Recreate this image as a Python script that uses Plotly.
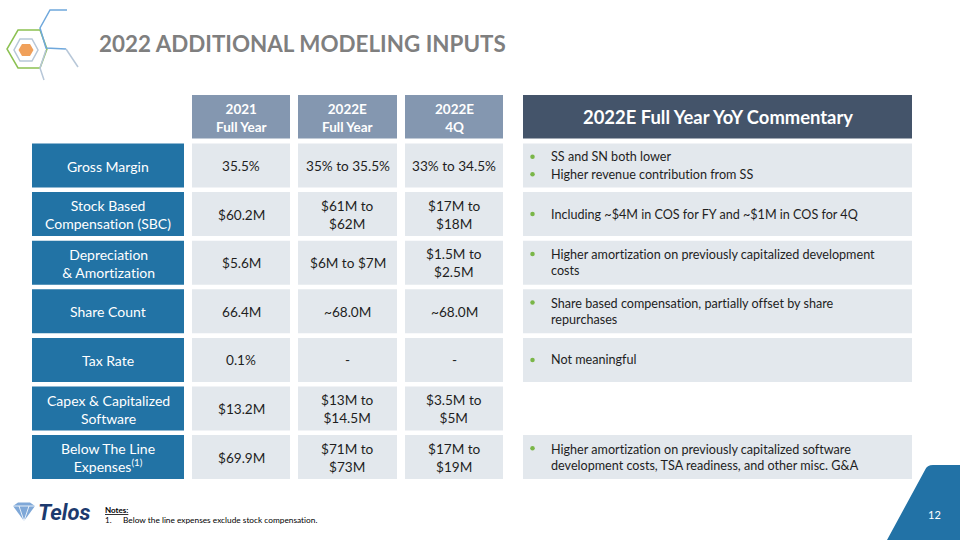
import plotly.graph_objects as go

# ---------------- data ----------------
metrics = ["Gross Margin", "Stock Based<br>Compensation (SBC)", "Depreciation<br>& Amortization",
           "Share Count", "Tax Rate", "Capex & Capitalized<br>Software",
           "Below The Line<br>Expenses<sup>(1)</sup>"]
col_headers = ["2021<br>Full Year", "2022E<br>Full Year", "2022E<br>4Q"]
fy2021 = ["35.5%", "$60.2M", "$5.6M", "66.4M", "0.1%", "$13.2M", "$69.9M"]
fy2022e = ["35% to 35.5%", "$61M to<br>$62M", "$6M to $7M", "~68.0M", "-", "$13M to<br>$14.5M", "$71M to<br>$73M"]
q4_2022e = ["33% to 34.5%", "$17M to<br>$18M", "$1.5M to<br>$2.5M", "~68.0M", "-", "$3.5M to<br>$5M", "$17M to<br>$19M"]
commentary_header = "2022E Full Year YoY Commentary"
commentary = [
    ["SS and SN both lower", "Higher revenue contribution from SS"],
    ["Including ~$4M in COS for FY and ~$1M in COS for 4Q"],
    ["Higher amortization on previously capitalized development<br>costs"],
    ["Share based compensation, partially offset by share<br>repurchases"],
    ["Not meaningful"],
    [],
    ["Higher amortization on previously capitalized software<br>development costs, TSA readiness, and other misc. G&A"],
]
title = "2022 ADDITIONAL MODELING INPUTS"
note_title = "Notes:"
note_items = ["Below the line expenses exclude stock compensation."]
page_number = "12"

# ---------------- style ----------------
FONT = "Lato"
C_LABEL = "#2273A5"
C_CELL = "#E3E8ED"
C_HEAD = "#8497B0"
C_COMM_HEAD = "#44546A"
C_TEXT = "#1E1E1E"
C_GREEN = "#7AB648"

ROW_TOP0 = 143.5
ROW_STEP = 48.6
ROW_H = 44
LABEL_X = (32, 184)
COL_X = [(192, 290), (298, 397), (405, 503)]
COMM_X = (523, 912)
HEAD_Y = (95, 138.5)

shapes = []
annotations = []


def rect(x0, x1, y0, y1, color):
    shapes.append(dict(type="rect", xref="x", yref="y", x0=x0, x1=x1, y0=y0, y1=y1,
                       fillcolor=color, line=dict(width=0), layer="below"))


def text(x, y, s, size=14, color=C_TEXT, xanchor="center", align="center", bold=False, family=FONT):
    annotations.append(dict(x=x, y=y, xref="x", yref="y", text=(f"<b>{s}</b>" if bold else s),
                            showarrow=False, xanchor=xanchor, yanchor="middle", align=align,
                            font=dict(family=family, size=size, color=color)))


# column headers
for j, h in enumerate(col_headers):
    x0, x1 = COL_X[j]
    rect(x0, x1, HEAD_Y[0], HEAD_Y[1], C_HEAD)
    text((x0 + x1) / 2, (HEAD_Y[0] + HEAD_Y[1]) / 2 + 1, h, size=13.5, color="white", bold=True)

# commentary header
rect(COMM_X[0], COMM_X[1], HEAD_Y[0], HEAD_Y[1], C_COMM_HEAD)
text((COMM_X[0] + COMM_X[1]) / 2, (HEAD_Y[0] + HEAD_Y[1]) / 2, commentary_header, size=18.4,
     color="white", bold=True)

bullet_x, bullet_y = [], []
columns = [fy2021, fy2022e, q4_2022e]
for i, m in enumerate(metrics):
    y0 = ROW_TOP0 + i * ROW_STEP
    y1 = y0 + ROW_H
    yc = (y0 + y1) / 2
    rect(LABEL_X[0], LABEL_X[1], y0, y1, C_LABEL)
    text((LABEL_X[0] + LABEL_X[1]) / 2, yc + 0.5, m, size=14, color="white")
    for j, col in enumerate(columns):
        x0, x1 = COL_X[j]
        rect(x0, x1, y0, y1, C_CELL)
        text((x0 + x1) / 2, yc + 0.5, col[i], size=13.6)
    items = commentary[i]
    if items:
        rect(COMM_X[0], COMM_X[1], y0, y1, C_CELL)
        n_lines = [it.count("<br>") + 1 for it in items]
        total = sum(n_lines)
        line_h = 17.5
        top = yc - total * line_h / 2
        for it, nl in zip(items, n_lines):
            cy = top + nl * line_h / 2
            text(549, cy, it, size=12.6, xanchor="left", align="left")
            bullet_x.append(532.5)
            bullet_y.append(top + line_h / 2)
            top += nl * line_h

fig = go.Figure()
fig.add_trace(go.Scatter(x=bullet_x, y=bullet_y, mode="markers", hoverinfo="skip",
                         marker=dict(color=C_GREEN, size=4.5, symbol="circle"), showlegend=False))

# title
text(97, 43.5, title, size=22.4, color="#7F7F7F", xanchor="left", align="left", bold=True)

# logo (hexagons)
shapes.append(dict(type="path", xref="x", yref="y",
                   path="M 22,44 L 30,44 L 33.5,50 L 30,56 L 22,56 L 18.5,50 Z",
                   fillcolor="#F0A05A", line=dict(width=0)))
shapes.append(dict(type="path", xref="x", yref="y",
                   path="M 20,39 L 32,39 L 38,50 L 32,61 L 20,61 L 14,50 Z",
                   fillcolor="rgba(0,0,0,0)", line=dict(color="#B7C7D8", width=1.5)))
shapes.append(dict(type="path", xref="x", yref="y",
                   path="M 40,30 L 18,30 L 7,49 L 18,68 L 40,68 L 47,49 L 40,30",
                   fillcolor="rgba(0,0,0,0)", line=dict(color="#8CC152", width=1.5)))
shapes.append(dict(type="path", xref="x", yref="y",
                   path="M 67,10 L 50,10 L 40,28 L 46,48 L 66,49",
                   fillcolor="rgba(0,0,0,0)", line=dict(color="#6FA8DC", width=1.5)))
shapes.append(dict(type="path", xref="x", yref="y",
                   path="M 66,49 L 78,67",
                   fillcolor="rgba(0,0,0,0)", line=dict(color="#B7C7D8", width=1.5)))
shapes.append(dict(type="path", xref="x", yref="y",
                   path="M 46,50 L 40,68 L 44,80",
                   fillcolor="rgba(0,0,0,0)", line=dict(color="#B7C7D8", width=1.5)))

# Telos logo
shapes.append(dict(type="path", xref="x", yref="y",
                   path="M 13,506 L 18,502.5 L 30,502.5 L 35,506 L 24,521 Z",
                   fillcolor="#7FA8D8", line=dict(width=0)))
shapes.append(dict(type="path", xref="x", yref="y",
                   path="M 13,506 L 35,506 M 19,506 L 24,521 L 29,506",
                   fillcolor="rgba(0,0,0,0)", line=dict(color="white", width=0.8)))
annotations.append(dict(x=36, y=512, xref="x", yref="y", text="<b><i>Telos</i></b>", showarrow=False,
                        xanchor="left", yanchor="middle",
                        font=dict(family="Roboto", size=22, color="#1C3A6E")))

# notes
annotations.append(dict(x=103, y=510, xref="x", yref="y", text=f"<b><u>{note_title}</u></b>",
                        showarrow=False, xanchor="left", yanchor="middle",
                        font=dict(family=FONT, size=8, color="#000000")))
for k, n in enumerate(note_items):
    annotations.append(dict(x=103, y=520 + 9 * k, xref="x", yref="y", text=f"{k + 1}.",
                            showarrow=False, xanchor="left", yanchor="middle",
                            font=dict(family=FONT, size=8, color="#000000")))
    annotations.append(dict(x=121, y=520 + 9 * k, xref="x", yref="y", text=n,
                            showarrow=False, xanchor="left", yanchor="middle",
                            font=dict(family=FONT, size=8.3, color="#000000")))

# page corner shape
shapes.append(dict(type="path", xref="x", yref="y",
                   path="M 887,540 L 925,470 Q 927,465 933,465 L 960,465 L 960,540 Z",
                   fillcolor="#2272A6", line=dict(width=0)))
annotations.append(dict(x=934, y=514, xref="x", yref="y", text=page_number, showarrow=False,
                        xanchor="center", yanchor="middle",
                        font=dict(family=FONT, size=11, color="white")))

fig.update_layout(
    width=960, height=540, margin=dict(l=0, r=0, t=0, b=0),
    paper_bgcolor="white", plot_bgcolor="white",
    xaxis=dict(range=[0, 960], visible=False, fixedrange=True),
    yaxis=dict(range=[540, 0], visible=False, fixedrange=True),
    shapes=shapes, annotations=annotations, showlegend=False,
)

post = ("var s=document.createElement('style');"
        "s.innerHTML='body{margin:0 !important;} text{font-variant-ligatures:none !important;"
        "font-feature-settings:\"liga\" 0 !important;}';"
        "document.head.appendChild(s);")

fig.write_html("out.html", config={"displayModeBar": False}, post_script=post)
